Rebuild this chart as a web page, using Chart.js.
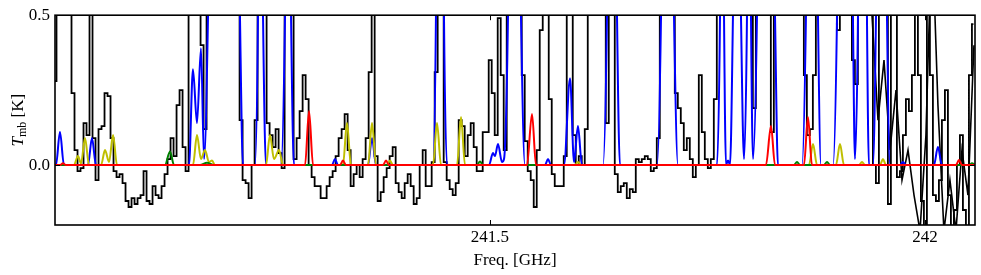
<!DOCTYPE html>
<html>
<head>
<meta charset="utf-8">
<script src="https://cdn.jsdelivr.net/npm/chart.js@4/dist/chart.umd.min.js"></script>
<style>
html,body{margin:0;padding:0;background:#fff;}
canvas{display:block;}
</style>
</head>
<body>
<canvas id="spec" width="981" height="275"></canvas>
<script>
// observed spectrum on its channel grid (GHz, K)
const specStart = 241.0, chanWidth = 0.00345;
const specT = [
 0.28,0.8,0.8,0.8,0.8,0.8,0.24,0.05,-0.02,-0.01,
 0.14,0.1,0.8,0.09,-0.05,0.12,0.13,0.24,0.23,0.09,
 -0.02,-0.04,-0.03,-0.06,-0.12,-0.14,-0.11,-0.13,-0.11,-0.1,
 -0.02,-0.12,-0.13,-0.07,-0.1,-0.11,-0.07,-0.03,0.02,0.09,
 0.03,0.2,0.25,0.06,-0.02,0.8,0.8,0.8,0.8,0.4,
 0.12,0.8,0.8,0.8,0.8,0.8,0.8,0.8,0.8,0.8,
 0.8,0.8,0.15,-0.05,-0.06,-0.11,0.0,0.15,0.8,0.8,
 0.8,0.14,0.1,0.06,0.12,0.04,-0.01,0.8,0.8,0.8,
 0.02,0.09,0.18,0.3,0.22,0.0,-0.04,-0.07,-0.07,-0.11,
 -0.11,-0.07,-0.04,-0.02,0.03,0.09,0.12,0.17,0.05,-0.07,
 -0.03,0.0,-0.04,0.02,0.09,0.31,0.8,0.03,-0.12,-0.09,
 -0.04,-0.01,0.03,0.06,-0.06,-0.09,-0.11,-0.06,-0.03,-0.07,
 -0.13,-0.11,0.0,0.05,-0.07,-0.07,0.01,0.31,0.8,0.8,
 0.01,-0.05,-0.08,-0.1,-0.06,0.15,0.13,0.03,0.1,0.14,
 0.06,-0.02,-0.02,0.11,0.11,0.35,0.24,0.1,0.49,0.3,
 0.05,0.8,0.8,0.8,0.8,0.8,0.3,0.08,-0.02,-0.05,
 -0.14,0.05,0.45,0.8,0.8,0.22,-0.03,-0.07,-0.07,-0.07,
 0.03,0.8,0.8,0.1,0.0,0.03,0.0,0.12,0.8,0.8,
 0.8,0.8,0.8,0.8,0.14,0.8,0.8,-0.03,-0.09,-0.07,
 -0.06,-0.11,-0.08,-0.09,0.02,0.01,0.02,0.03,0.02,-0.02,
 -0.01,0.09,0.8,0.8,0.8,0.8,0.8,0.24,0.19,0.14,
 0.05,0.09,0.02,-0.04,0.0,0.3,0.11,0.02,-0.01,0.02,
 0.22,0.8,0.8,0.8,0.8,0.8,0.8,0.8,0.8,0.8,
 0.8,0.8,0.8,0.19,0.8,0.8,0.8,0.8,0.8,0.11,
 0.8,0.8,0.8,0.8,0.8,0.8,0.8,0.8,0.8,0.8,
 0.3,0.1,0.12,0.3,0.8,0.8,0.8,0.8,0.8,0.8,
 0.8,0.45,0.8,0.8,0.8,0.8,0.35,0.27,0.8,0.8,
 0.8,0.8,0.8,0.0,-0.06,0.8,0.8,0.8,-0.13,0.8,
 0.8,-0.04,-0.02,0.1,0.22,0.18,0.3,0.8,0.3,-0.12,
 -0.25,0.8,0.3,-0.1,-0.12,-0.05,0.15,0.25,-0.1,-0.25,
 -0.15,0.0,0.1,-0.15,-0.25,0.3,0.47
];

// overlapping spectral window at the high-frequency end
const spec2F = [241.9322,241.9391,241.9460,241.9529,241.9598,241.9667,241.9736,241.9805,241.9874,241.9943,
 242.0011,242.0080,242.0149,242.0218,242.0287,242.0356,242.0425,242.0494,242.0563];
const spec2T = [0.8,0.5,0.15,0.35,0.05,0.25,-0.05,0.05,-0.1,-0.22,0.1,0.8,0.2,-0.22,-0.05,-0.22,0.05,-0.1,0.4];

// model spectra
const blueF = [241.0000,241.0011,241.0057,241.0103,241.0379,241.0425,241.0471,241.1540,241.1586,241.1632,
 241.1678,241.1713,241.1759,241.1805,241.2080,241.2126,241.2161,241.2299,241.2333,241.2356,
 241.2391,241.2425,241.2598,241.2644,241.2678,241.2713,241.2747,241.3184,241.3218,241.3253,
 241.3598,241.3644,241.3690,241.4345,241.4379,241.4402,241.4448,241.4471,241.4506,241.4989,
 241.5034,241.5057,241.5092,241.5138,241.5161,241.5207,241.5241,241.5310,241.5356,241.5402,
 241.5632,241.5667,241.5701,241.5851,241.5920,241.5966,241.6011,241.6057,241.6299,241.6345,
 241.6379,241.6425,241.6460,241.6494,241.6920,241.6966,241.7000,241.7069,241.7115,241.7161,
 241.7609,241.7644,241.7667,241.7690,241.7713,241.7736,241.7759,241.7793,241.7839,241.7885,
 241.7920,241.7954,241.7977,241.8000,241.8023,241.8069,241.8103,241.8218,241.8276,241.8310,
 241.8586,241.8632,241.8667,241.8736,241.8770,241.8805,241.8943,241.8989,241.9023,241.9138,
 241.9172,241.9195,241.9230,241.9253,241.9310,241.9333,241.9356,241.9402,241.9437,241.9471,
 241.9529,241.9563,241.9598,241.9713,241.9747,241.9782,242.0103,242.0149,242.0195,242.0575];
const blueT = [0,0,0.11,0,0,0.09,0,0,0.32,0.14,
 0.39,0.02,0.5,1.5,1.5,0.5,0,0,0.5,1.5,
 0.5,0,0,0.5,1.5,0.5,0,0,0.02,0,
 0,0.09,0,0,0.5,1.5,1.5,0.5,0,0,
 0.04,0.03,0.07,0.01,0.02,0.5,1.5,1.5,0.5,0,
 0,0.02,0,0,0.29,0.01,0.13,0,0,0.5,
 1.5,1.5,0.5,0,0,0.5,1.5,1.5,0.5,0,
 0,0.5,1.5,0.5,0,0.015,0,0.5,1.5,0.5,
 0.02,0.5,1.5,0.5,0.02,0.5,1.5,1.5,0.5,0,
 0,0.5,1.5,1.5,0.5,0,0,0.5,1.5,1.5,
 0.5,0.02,0.5,1.5,1.5,0.5,0,0,0.5,1.5,
 1.5,0.5,0,0,0.01,0,0,0.06,0,0];

const yellowF = [241.0000,241.0218,241.0264,241.0299,241.0345,241.0391,241.0529,241.0575,241.0621,241.0667,
 241.0713,241.1586,241.1632,241.1678,241.1724,241.1770,241.1805,241.1839,241.2425,241.2471,
 241.2517,241.2575,241.2621,241.3310,241.3356,241.3402,241.3598,241.3644,241.3690,241.3816,
 241.3851,241.3885,241.4345,241.4391,241.4437,241.4621,241.4667,241.4713,241.5977,241.6011,
 241.6046,241.8667,241.8713,241.8759,241.8977,241.9023,241.9069,241.9241,241.9276,241.9310,
 241.9483,241.9517,241.9552,242.0575];
const yellowT = [0,0,0.03,0.005,0.09,0,0,0.05,0.01,0.1,
 0,0,0.1,0.02,0.05,0.01,0.015,0,0,0.1,
 0.02,0.05,0,0,0.14,0,0,0.14,0,0,
 0.015,0,0,0.14,0,0,0.16,0,0,0.01,
 0,0,0.07,0,0,0.07,0,0,0.01,0,
 0,0.02,0,0];

const greenF = [241.0000,241.1264,241.1322,241.1368,241.1667,241.1747,241.1828,241.4851,241.4885,241.4920,
 241.8494,241.8529,241.8563,241.8839,241.8874,241.8908,242.0506,242.0540,242.0575];
const greenT = [0,0,0.045,0,0,0.008,0,0,0.012,0,0,0.01,0,0,0.01,0,0,0.006,0];

const redF = [241.0000,241.0057,241.0092,241.0126,241.2874,241.2920,241.2966,241.3276,241.3310,241.3345,
 241.3770,241.3805,241.3839,241.5425,241.5483,241.5529,241.8172,241.8230,241.8276,241.8609,
 241.8655,241.8701,242.0356,242.0391,242.0425,242.0575];
const redT = [0,0,0.006,0,0,0.18,0,0,0.015,0,0,0.015,0,0,0.17,0,0,0.13,0,0,0.16,0,0,0.017,0,0];

const xTicks = [241.5, 242];
const yTicks = [0.0, 0.5];

const serif = "'Liberation Serif', 'DejaVu Serif', serif";
const pts = (xs, ys) => xs.map((x, i) => ({x: x, y: ys[i]}));
const specF = specT.map((_, i) => specStart + i * chanWidth);

function model(xs, ys, color, order){
    return {data: pts(xs, ys), borderColor: color, borderWidth: 2, pointRadius: 0,
            cubicInterpolationMode: 'monotone', fill: false, order: order};
}

// frame, inward ticks and the T_mb label
const frame = {
    id: 'frame',
    afterDraw(chart){
        const {ctx, chartArea: a, scales: {x, y}} = chart;
        ctx.save();
        ctx.strokeStyle = '#000';
        ctx.lineWidth = 1;
        ctx.beginPath();
        xTicks.forEach(v => {
            const px = Math.round(x.getPixelForValue(v)) + 0.5;
            ctx.moveTo(px, a.bottom); ctx.lineTo(px, a.bottom - 5);
            ctx.moveTo(px, a.top); ctx.lineTo(px, a.top + 5);
        });
        yTicks.forEach(v => {
            const py = Math.round(y.getPixelForValue(v)) + 0.5;
            ctx.moveTo(a.left, py); ctx.lineTo(a.left + 5, py);
            ctx.moveTo(a.right, py); ctx.lineTo(a.right - 5, py);
        });
        ctx.stroke();
        ctx.lineWidth = 1.6;
        ctx.strokeRect(a.left, a.top, a.right - a.left, a.bottom - a.top);

        ctx.translate(23, (a.top + a.bottom) / 2);
        ctx.rotate(-Math.PI / 2);
        ctx.fillStyle = '#000';
        ctx.textBaseline = 'alphabetic';
        const fT = 'italic 17px ' + serif, fSub = '12px ' + serif, fK = '17px ' + serif;
        ctx.font = fT; const wT = ctx.measureText('T').width;
        ctx.font = fSub; const wS = ctx.measureText('mb').width;
        ctx.font = fK; const wK = ctx.measureText(' [K]').width;
        let cx = -(wT + wS + wK) / 2;
        ctx.font = fT; ctx.fillText('T', cx, 0); cx += wT;
        ctx.font = fSub; ctx.fillText('mb', cx, 3); cx += wS;
        ctx.font = fK; ctx.fillText(' [K]', cx, 0);
        ctx.restore();
    }
};

new Chart(document.getElementById('spec'), {
    type: 'line',
    data: {
        datasets: [
            model(redF, redT, '#ff0000', 1),
            model(greenF, greenT, '#008000', 2),
            model(yellowF, yellowT, '#bfbf00', 3),
            model(blueF, blueT, '#0000ff', 4),
            {data: pts(spec2F, spec2T), borderColor: '#000', borderWidth: 1.6, pointRadius: 0, order: 5},
            {data: pts(specF, specT), borderColor: '#000', borderWidth: 1.8, pointRadius: 0, stepped: 'middle', order: 6}
        ]
    },
    options: {
        responsive: false,
        animation: false,
        devicePixelRatio: 1,
        layout: {padding: {top: 15, right: 6, left: 0, bottom: 0}},
        plugins: {legend: {display: false}, tooltip: {enabled: false}},
        scales: {
            x: {
                type: 'linear', min: 241.0, max: 242.0575,
                afterBuildTicks: s => { s.ticks = xTicks.map(v => ({value: v})); },
                afterFit: s => { s.height = 50; },
                ticks: {callback: v => String(v), font: {family: serif, size: 17}, color: '#000',
                        padding: 2, maxRotation: 0, autoSkip: false},
                grid: {display: false, drawTicks: false},
                border: {display: false},
                title: {display: true, text: 'Freq. [GHz]', color: '#000',
                        font: {family: serif, size: 17}, padding: {top: 0, bottom: 4}}
            },
            y: {
                min: -0.2, max: 0.5,
                afterBuildTicks: s => { s.ticks = yTicks.map(v => ({value: v})); },
                afterFit: s => { s.width = 55; },
                ticks: {callback: v => v.toFixed(1), font: {family: serif, size: 17}, color: '#000', padding: 5},
                grid: {display: false, drawTicks: false},
                border: {display: false}
            }
        }
    },
    plugins: [frame]
});
</script>
</body>
</html>
